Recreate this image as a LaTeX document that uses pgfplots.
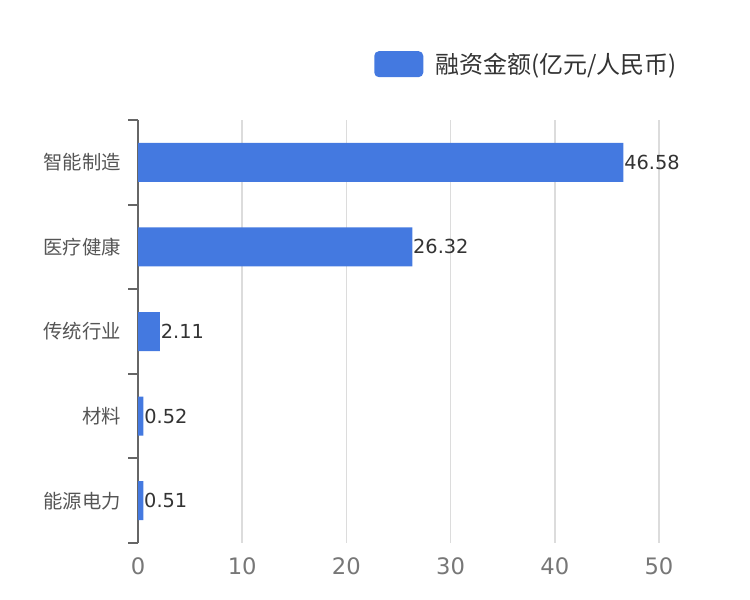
\documentclass[border=0pt]{standalone}
\usepackage{pgfplots}
\pgfplotsset{compat=1.18}
\usepackage{fontspec}
\setmainfont{DejaVu Sans}
\newfontfamily\cjk{Noto Sans CJK SC}
\definecolor{barblue}{RGB}{68,121,224}
\definecolor{axisgray}{RGB}{102,102,102}
\definecolor{gridgray}{RGB}{220,220,220}
\definecolor{labgray}{RGB}{85,85,85}
\definecolor{tickgray}{RGB}{119,119,119}
\definecolor{darktext}{RGB}{51,51,51}
\begin{document}
\begin{tikzpicture}
\useasboundingbox (0,0) rectangle (562.5pt,450pt);
\begin{axis}[
  at={(103.5pt,42.75pt)}, anchor=south west,
  scale only axis, width=390.75pt, height=317.25pt,
  xbar, bar width=29.25pt,
  xmin=0, xmax=50, xtick={0,10,...,50},
  ymin=-0.5, ymax=4.5, y dir=reverse,
  ytick={0,1,2,3,4},
  yticklabels={智能制造,医疗健康,传统行业,材料,能源电力},
  minor ytick={-0.5,0.5,1.5,2.5,3.5,4.5},
  axis y line*=left, axis x line*=bottom,
  x axis line style={draw=none},
  y axis line style={-, draw=axisgray, line width=1.5pt},
  tick align=outside,
  major y tick style={draw=none},
  major tick length=0pt,
  minor tick length=7.5pt,
  minor y tick style={draw=axisgray, line width=1.5pt},
  major x tick style={draw=none},
  xmajorgrids,
  major x grid style={draw=gridgray, line width=1.2pt},
  yticklabel style={font=\cjk\fontsize{14.5}{16}\selectfont, text=labgray, inner sep=0pt, xshift=-12.75pt},
  xticklabel style={font=\fontsize{17}{19}\selectfont, text=tickgray, inner sep=0pt, yshift=-11pt},
  /pgf/number format/assume math mode=true,
  point meta=explicit symbolic,
  nodes near coords,
  nodes near coords style={anchor=west, font=\fontsize{14.5}{17}\selectfont, text=darktext, inner sep=0.5pt},
  legend style={draw=none, fill=none, at={(1.04,1.132)}, anchor=east, inner sep=0pt,
    font=\cjk\fontsize{18}{20}\selectfont, text=darktext,
    /tikz/every odd column/.style={column sep=7pt}},
  legend image code/.code={\fill[barblue, rounded corners=3.5pt] (0pt,-9.75pt) rectangle (36.75pt,9.75pt);},
]
\addplot[fill=barblue, draw=none] coordinates {
  (46.58,0) [46.58]
  (26.32,1) [26.32]
  (2.11,2) [2.11]
  (0.52,3) [0.52]
  (0.51,4) [0.51]
};
\addlegendentry{融资金额(亿元/人民币)}
\end{axis}
\end{tikzpicture}
\end{document}
